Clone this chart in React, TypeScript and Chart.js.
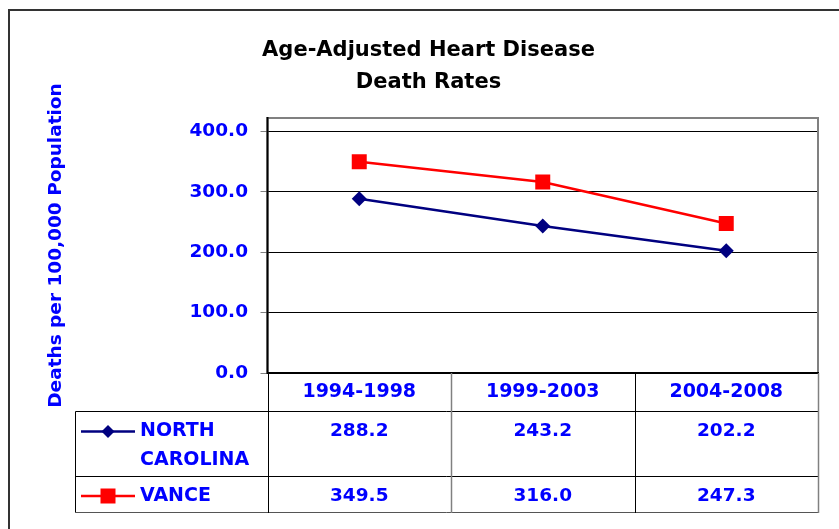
import React, { useEffect, useRef } from 'react';
import { Chart, registerables } from 'chart.js';

Chart.register(...registerables);

const categories = ['1994-1998', '1999-2003', '2004-2008'];
const northCarolina = [288.2, 243.2, 202.2];
const vance = [349.5, 316.0, 247.3];
const yTicks = [0, 100, 200, 300, 400];
const seriesNames = [['NORTH', 'CAROLINA'], ['VANCE']];
const titleLines = ['Age-Adjusted Heart Disease', 'Death Rates'];
const yTitle = 'Deaths per 100,000 Population';

const FONT = '"DejaVu Sans", Verdana, sans-serif';
const BLUE = '#0000FF';
const NAVY = '#000080';
const RED = '#FF0000';

const decorPlugin = {
  id: 'decor',
  beforeDraw(chart: any) {
    const ctx = chart.ctx;
    ctx.save();
    ctx.fillStyle = '#ffffff';
    ctx.fillRect(0, 0, chart.width, chart.height);
    ctx.strokeStyle = '#333333';
    ctx.lineWidth = 2;
    ctx.beginPath();
    ctx.moveTo(9, chart.height + 2);
    ctx.lineTo(9, 10);
    ctx.lineTo(chart.width + 2, 10);
    ctx.stroke();
    ctx.restore();
  },
  beforeDatasetsDraw(chart: any) {
    const { ctx, chartArea: a } = chart;
    ctx.save();
    ctx.strokeStyle = '#808080';
    ctx.lineWidth = 2;
    ctx.strokeRect(a.left, a.top, a.right - a.left, a.bottom - a.top);
    ctx.strokeStyle = '#000000';
    ctx.beginPath();
    ctx.moveTo(a.left, a.top - 1);
    ctx.lineTo(a.left, a.bottom);
    ctx.lineTo(a.right + 1, a.bottom);
    ctx.stroke();
    ctx.restore();
  },
  afterDraw(chart: any) {
    const { ctx, chartArea: a } = chart;
    const xs = chart.scales.x;
    const n = categories.length;
    const colW = (a.right - a.left) / n;
    const headerBottom = a.bottom + 37.5;
    const row1Bottom = headerBottom + 65.5;
    const row2Bottom = row1Bottom + 35.5;
    const tableLeft = 75.5;
    ctx.save();
    ctx.lineWidth = 1;
    ctx.strokeStyle = '#000000';
    [headerBottom, row1Bottom].forEach((y) => {
      ctx.beginPath();
      ctx.moveTo(tableLeft, Math.round(y) + 0.5);
      ctx.lineTo(a.right, Math.round(y) + 0.5);
      ctx.stroke();
    });
    ctx.strokeStyle = '#555555';
    ctx.beginPath();
    ctx.moveTo(tableLeft, Math.round(row2Bottom) + 0.5);
    ctx.lineTo(a.right, Math.round(row2Bottom) + 0.5);
    ctx.stroke();
    ctx.strokeStyle = '#000000';
    ctx.beginPath();
    ctx.moveTo(tableLeft, Math.round(headerBottom) + 0.5);
    ctx.lineTo(tableLeft, Math.round(row2Bottom) + 0.5);
    ctx.stroke();
    for (let i = 0; i <= n; i++) {
      const x = Math.round(a.left + i * colW) + 0.5;
      ctx.strokeStyle = i === 1 || i === n ? '#808080' : '#000000';
      ctx.lineWidth = i === 1 || i === n ? 1.5 : 1;
      ctx.beginPath();
      ctx.moveTo(x, a.bottom);
      ctx.lineTo(x, Math.round(row2Bottom) + 1);
      ctx.stroke();
    }
    const rows = [
      { values: northCarolina, color: NAVY, style: 'rectRot', radius: 6.5, y: headerBottom + 21, names: seriesNames[0] },
      { values: vance, color: RED, style: 'rect', radius: 10.6, y: row1Bottom + 20, names: seriesNames[1] },
    ];
    ctx.textBaseline = 'middle';
    rows.forEach((r) => {
      ctx.strokeStyle = r.color;
      ctx.lineWidth = 2.5;
      ctx.beginPath();
      ctx.moveTo(81, r.y);
      ctx.lineTo(135, r.y);
      ctx.stroke();
      ctx.fillStyle = r.color;
      ctx.beginPath();
      if (r.style === 'rect') {
        ctx.rect(108 - 7.5, r.y - 7.5, 15, 15);
      } else {
        ctx.moveTo(108, r.y - r.radius);
        ctx.lineTo(108 + r.radius, r.y);
        ctx.lineTo(108, r.y + r.radius);
        ctx.lineTo(108 - r.radius, r.y);
        ctx.closePath();
      }
      ctx.fill();
      ctx.fillStyle = BLUE;
      ctx.textAlign = 'left';
      ctx.font = `bold 19px ${FONT}`;
      r.names.forEach((nm, k) => ctx.fillText(nm, 140, r.y + k * 29));
      ctx.textAlign = 'center';
      ctx.font = `bold 18.5px ${FONT}`;
      r.values.forEach((v, i) => ctx.fillText(v.toFixed(1), xs.getPixelForValue(i), r.y));
    });
    ctx.restore();
  },
};

export default function App() {
  const ref = useRef<HTMLCanvasElement | null>(null);
  useEffect(() => {
    if (!ref.current) return;
    const chart = new Chart(ref.current, {
      type: 'line',
      data: {
        labels: categories,
        datasets: [
          {
            label: 'NORTH CAROLINA',
            data: northCarolina,
            borderColor: NAVY,
            backgroundColor: NAVY,
            borderWidth: 2.5,
            pointStyle: 'rectRot',
            pointRadius: 7.5,
            pointBorderWidth: 0,
            pointBackgroundColor: NAVY,
            tension: 0,
          },
          {
            label: 'VANCE',
            data: vance,
            borderColor: RED,
            backgroundColor: RED,
            borderWidth: 2.5,
            pointStyle: 'rect',
            pointRadius: 10.6,
            pointBorderWidth: 0,
            pointBackgroundColor: RED,
            tension: 0,
          },
        ],
      },
      options: {
        responsive: false,
        animation: false,
        layout: { padding: { left: 18, right: 0, top: 0, bottom: 0 } },
        plugins: {
          legend: { display: false },
          tooltip: { enabled: false },
          title: {
            display: true,
            text: titleLines,
            color: '#000000',
            font: { family: FONT, size: 21, weight: 'bold', lineHeight: 32 / 21 },
            padding: { top: 35, bottom: 19 },
          },
        },
        scales: {
          x: {
            type: 'category',
            offset: true,
            grid: { display: false, drawTicks: false },
            border: { display: false },
            ticks: {
              color: BLUE,
              font: { family: FONT, size: 19, weight: 'bold' },
              padding: 7.6,
              maxRotation: 0,
              autoSkip: false,
            },
            afterFit: (s: any) => {
              s.height = 156;
            },
          },
          y: {
            min: 0,
            max: 422,
            afterBuildTicks: (s: any) => {
              s.ticks = yTicks.map((v) => ({ value: v }));
            },
            grid: { color: '#000000', lineWidth: 1, tickLength: 7, tickColor: '#808080' },
            border: { display: false },
            ticks: {
              color: BLUE,
              font: { family: FONT, size: 18.5, weight: 'bold' },
              padding: 12.5,
              callback: (v: any) => Number(v).toFixed(1),
            },
            title: {
              display: true,
              text: yTitle,
              color: BLUE,
              font: { family: FONT, size: 18.5, weight: 'bold' },
              padding: { top: 27, bottom: 0 },
            },
            afterFit: (s: any) => {
              s.width = 249.5;
            },
          },
          yRight: {
            type: 'linear',
            position: 'right',
            display: true,
            grid: { display: false, drawTicks: false },
            border: { display: false },
            ticks: { display: false },
            afterFit: (s: any) => {
              s.width = 21;
            },
          },
        },
      },
      plugins: [decorPlugin],
    } as any);
    return () => chart.destroy();
  }, []);
  return (
    <div style={{ position: 'fixed', left: 0, top: 0, width: 839, height: 529, background: '#fff' }}>
      <canvas ref={ref} width={839} height={529} style={{ display: 'block' }} />
    </div>
  );
}
